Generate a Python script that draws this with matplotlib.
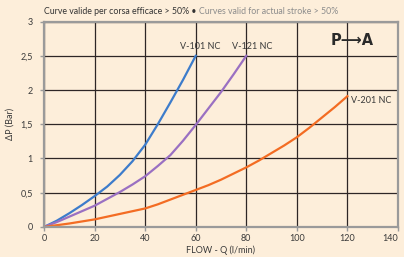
import matplotlib.pyplot as plt

# Curves: flow Q (l/min) vs pressure drop dP (bar)
q_v101 = [0, 5, 10, 15, 20, 25, 30, 35, 40, 45, 50, 55, 60]
dp_v101 = [0, 0.09, 0.2, 0.32, 0.45, 0.59, 0.76, 0.96, 1.2, 1.5, 1.82, 2.15, 2.5]

q_v121 = [0, 5, 10, 15, 20, 25, 30, 35, 40, 45, 50, 55, 60, 65, 70, 75, 80]
dp_v121 = [0, 0.07, 0.15, 0.23, 0.31, 0.41, 0.51, 0.62, 0.74, 0.89, 1.05, 1.26,
           1.49, 1.73, 1.97, 2.23, 2.5]

q_v201 = [0, 5, 10, 15, 20, 25, 30, 35, 40, 45, 50, 55, 60, 65, 70, 75, 80,
          85, 90, 95, 100, 105, 110, 115, 120]
dp_v201 = [0, 0.025, 0.05, 0.08, 0.11, 0.15, 0.19, 0.23, 0.27, 0.33, 0.40, 0.47,
           0.54, 0.61, 0.69, 0.78, 0.87, 0.97, 1.08, 1.19, 1.31, 1.45, 1.6,
           1.75, 1.91]

x_ticks = [0, 20, 40, 60, 80, 100, 120, 140]
y_ticks = [0, 0.5, 1, 1.5, 2, 2.5, 3]
y_labels = ['0', '0,5', '1', '1,5', '2', '2,5', '3']

bg = '#FDEEDA'
txt = '#3a3a3a'

plt.rcParams['font.family'] = ['Lato', 'DejaVu Sans']

fig = plt.figure(figsize=(4.04, 2.57), dpi=100, facecolor=bg)
ax = fig.add_axes([0.109, 0.117, 0.876, 0.799], facecolor=bg)

ax.set_xlim(0, 140)
ax.set_ylim(0, 3)
ax.set_xticks(x_ticks)
ax.set_yticks(y_ticks)
ax.set_yticklabels(y_labels)
ax.grid(True, color='#2e2626', linewidth=0.9)
ax.set_axisbelow(True)
for s in ax.spines.values():
    s.set_color('#9a9a9a')
    s.set_linewidth(1.6)
ax.tick_params(colors='#9a9a9a', labelcolor=txt, labelsize=6.5, length=3, width=1)
ax.tick_params(axis='y', pad=5)
ax.tick_params(axis='x', pad=2)
# keep the last x label inside the figure
ax.get_xticklabels()[-1].set_ha('right')

ax.plot(q_v101, dp_v101, color='#3D7CCB', lw=1.6)
ax.plot(q_v121, dp_v121, color='#9A70C2', lw=1.6)
ax.plot(q_v201, dp_v201, color='#F36C23', lw=1.6)

ax.text(61.8, 2.57, 'V-101 NC', ha='center', va='bottom', fontsize=6.5, color=txt)
ax.text(82.2, 2.57, 'V-121 NC', ha='center', va='bottom', fontsize=6.5, color=txt)
ax.text(121.5, 1.85, 'V-201 NC', ha='left', va='center', fontsize=6.5, color=txt)
ax.text(121.8, 2.72, 'P\u27f6A', ha='center', va='center', fontsize=10.5,
        fontweight='bold', color='#2a2a2a', family=['DejaVu Sans'])

ax.set_xlabel('FLOW - Q (l/min)', fontsize=6.5, color=txt, labelpad=2)
ax.set_ylabel('\u0394P (Bar)', fontsize=6.5, color=txt, labelpad=4)

t1 = fig.text(0.109, 0.955, 'Curve valide per corsa efficace > 50% \u2022 ', fontsize=6.3,
              color='#333333', ha='left', va='center')
fig.canvas.draw()
x2 = t1.get_window_extent().x1 / fig.bbox.width
fig.text(x2, 0.955, 'Curves valid for actual stroke > 50%', fontsize=6.3,
         color='#8c8c8c', ha='left', va='center')

fig.savefig('out.png', dpi=100, facecolor=bg)
